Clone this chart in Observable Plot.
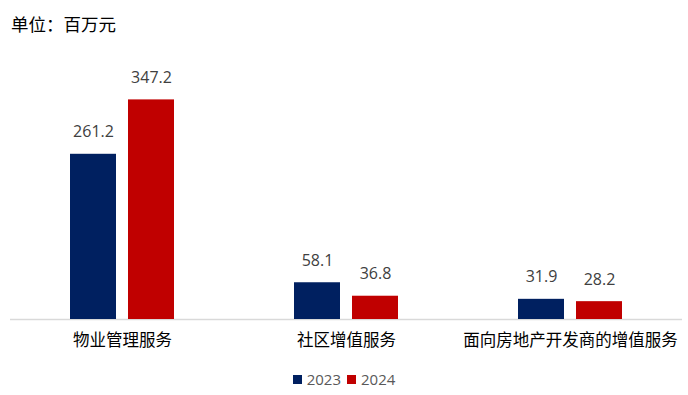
<!DOCTYPE html>
<html>
<head>
<meta charset="utf-8">
<script src="https://cdn.jsdelivr.net/npm/d3@7"></script>
<script src="https://cdn.jsdelivr.net/npm/@observablehq/plot@0.6"></script>
<style>
  html, body { margin: 0; padding: 0; background: #fff; }
  #wrap { position: relative; width: 688px; height: 395px; overflow: hidden; }
  #title { position: absolute; left: 11px; top: 11px; font-family: "Noto Sans CJK SC", sans-serif; font-size: 17.5px; color: #000; }
  #legend { position: absolute; left: 0; width: 688px; top: 369px; text-align: center; font-family: "Open Sans", "Noto Sans", sans-serif; font-size: 15px; color: #595959; }
  #legend span.sw { display: inline-block; width: 9px; height: 9px; margin: 0 5px 0 0; vertical-align: 1px; }
  #legend span.it { margin: 0 3px; }
  svg { position: absolute; left: 0; top: 0; }
</style>
</head>
<body>
<div id="wrap">
  <div id="chart"></div>
  <div id="title">单位：百万元</div>
  <div id="legend"></div>
</div>
<script>
const categories = ["物业管理服务", "社区增值服务", "面向房地产开发商的增值服务"];
const years = ["2023", "2024"];
const values2023 = [261.2, 58.1, 31.9];
const values2024 = [347.2, 36.8, 28.2];
const colors = ["#002060", "#C00000"];

const data = [];
categories.forEach((c, i) => {
  data.push({category: c, year: years[0], value: values2023[i]});
  data.push({category: c, year: years[1], value: values2024[i]});
});

const chart = Plot.plot({
  width: 688,
  height: 395,
  marginLeft: 10,
  marginRight: 6,
  marginTop: 66,
  marginBottom: 76,
  style: {fontFamily: "'Noto Sans CJK SC', sans-serif", background: "transparent"},
  fx: {domain: categories, padding: 0, label: null},
  x: {domain: years, paddingInner: 0.203, paddingOuter: 1.0, axis: null},
  y: {domain: [0, 400], axis: null},
  color: {domain: years, range: colors},
  marks: [
    Plot.ruleY([0], {stroke: "#d9d9d9", strokeWidth: 1.3}),
    Plot.barY(data, {fx: "category", x: "year", y: "value", fill: "year"}),
    Plot.text(data, {
      fx: "category", x: "year", y: "value", text: d => d3.format(".1f")(d.value),
      dy: -22, fontSize: 16, fill: "#404040",
      fontFamily: "'Open Sans', 'Noto Sans', sans-serif"
    }),
    Plot.axisFx({anchor: "bottom", tickSize: 0, tickPadding: 15, fontSize: 16.5, label: null, fill: "#000"})
  ]
});
document.getElementById("chart").appendChild(chart);

const legend = document.getElementById("legend");
years.forEach((y, i) => {
  const it = document.createElement("span");
  it.className = "it";
  it.innerHTML = `<span class="sw" style="background:${colors[i]}"></span>${y}`;
  legend.appendChild(it);
});
</script>
</body>
</html>
